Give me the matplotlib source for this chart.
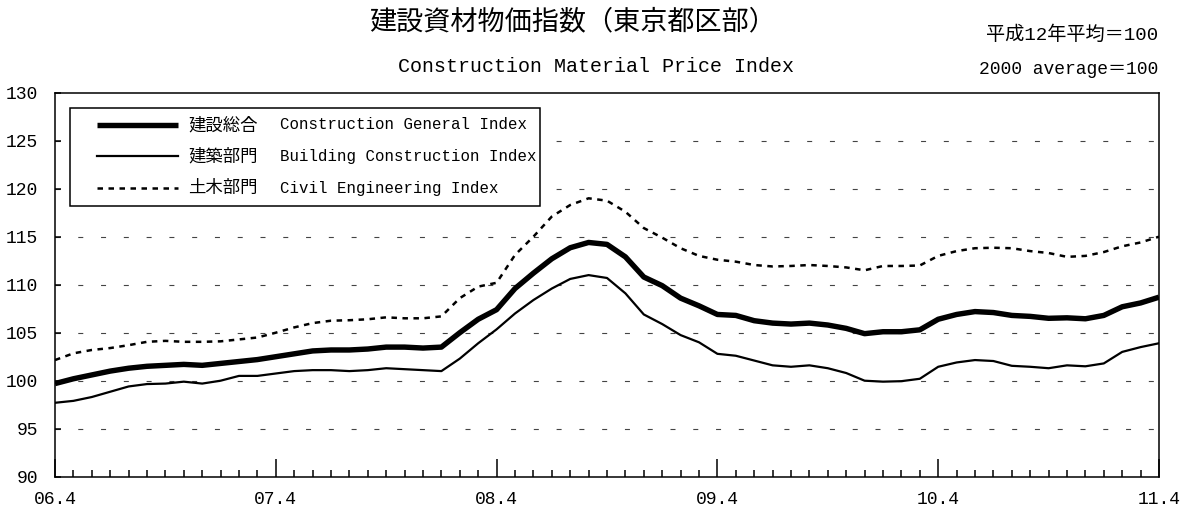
import matplotlib
matplotlib.use("Agg")
import matplotlib.pyplot as plt
from matplotlib.ticker import MultipleLocator
from matplotlib.patches import Rectangle

plt.rcParams['font.family'] = ['Liberation Mono', 'Noto Sans CJK JP']

# monthly index values, 2006.4 - 2011.4 (2000 average = 100)
general = [99.7, 100.2, 100.6, 101.0, 101.3, 101.5, 101.6, 101.7, 101.6, 101.8,
           102.0, 102.2, 102.5, 102.8, 103.1, 103.2, 103.2, 103.3, 103.5,
           103.5, 103.4, 103.5, 105.0, 106.4, 107.4, 109.6, 111.2, 112.7, 113.85,
           114.4, 114.2, 112.9, 110.8, 109.9, 108.6, 107.8, 106.9, 106.8, 106.25, 106.0,
           105.9, 106.0, 105.8, 105.45, 104.9, 105.1, 105.1, 105.3, 106.4, 106.9,
           107.2, 107.1, 106.8, 106.7, 106.5, 106.55, 106.45, 106.8, 107.7, 108.1, 108.7]
building = [97.7, 97.9, 98.3, 98.85, 99.4, 99.65, 99.7, 99.9, 99.7, 100.0,
            100.5, 100.5, 100.75, 101.0, 101.1, 101.1, 101.0, 101.1, 101.3,
            101.2, 101.1, 101.0, 102.3, 103.9, 105.35, 107.0, 108.4, 109.6, 110.6,
            111.0, 110.7, 109.1, 106.9, 105.9, 104.75, 104.0, 102.8, 102.6, 102.1, 101.6,
            101.45, 101.6, 101.3, 100.8, 100.0, 99.9, 99.95, 100.2, 101.45, 101.9,
            102.15, 102.05, 101.55, 101.45, 101.3, 101.6, 101.5, 101.8, 103.0, 103.5, 103.9]
civil = [102.15, 102.85, 103.2, 103.4, 103.7, 104.05, 104.15, 104.05, 104.05, 104.1,
         104.3, 104.5, 105.0, 105.55, 106.0, 106.25, 106.3, 106.4, 106.6,
         106.5, 106.5, 106.7, 108.6, 109.8, 110.2, 113.1, 115.0, 117.1, 118.3,
         119.0, 118.75, 117.6, 115.9, 114.9, 113.8, 113.0, 112.6, 112.4, 112.05, 111.9,
         111.95, 112.05, 111.95, 111.8, 111.5, 111.95, 111.95, 112.0, 113.0, 113.5,
         113.8, 113.85, 113.8, 113.5, 113.3, 112.9, 113.0, 113.4, 114.0, 114.4, 115.0]
months = list(range(len(general)))
year_labels = ['06.4', '07.4', '08.4', '09.4', '10.4', '11.4']
names_jp = ['建設総合', '建築部門', '土木部門']
names_en = ['Construction General Index', 'Building Construction Index', 'Civil Engineering Index']

styles = [dict(color='black', lw=3.9, solid_capstyle='butt'),
          dict(color='black', lw=1.6),
          dict(color='black', lw=1.8, linestyle=(0, (2.2, 2.2)))]

fig = plt.figure(figsize=(11.82, 5.09), dpi=100)
ax = fig.add_axes([55/1182, 1 - 476.7/509, 1104/1182, 384/509])

for series, st in zip([general, building, civil], styles):
    ax.plot(months, series, **st)

ax.set_xlim(0, 60)
ax.set_ylim(90, 130)
ax.set_xticks(range(0, 61, 12))
ax.set_xticklabels(year_labels)
ax.xaxis.set_minor_locator(MultipleLocator(1))
ax.set_yticks(range(90, 131, 5))
ax.tick_params(axis='x', which='major', direction='in', length=13, width=1.1, labelsize=13, pad=10)
ax.tick_params(axis='x', which='minor', direction='in', length=5, width=1.1)
ax.tick_params(axis='y', direction='in', length=4, width=1.1, labelsize=13, pad=12)
for s in ax.spines.values():
    s.set_linewidth(1.1)

for v in range(95, 130, 5):
    ax.axhline(v, color='#444444', lw=0.8, linestyle=(0, (4.5, 16)), zorder=0)

# legend box drawn by hand to match the original layout
ax.add_patch(Rectangle((0.0136, 0.705), 0.4257, 0.256, transform=ax.transAxes,
                       facecolor='white', edgecolor='black', lw=1.1, zorder=5))
for k, y in enumerate([0.9159, 0.8346, 0.7518]):
    ax.plot([0.038, 0.1114], [y, y], transform=ax.transAxes, zorder=6, **styles[k])
    ax.text(0.1205, y, names_jp[k], transform=ax.transAxes, va='center', fontsize=12.5, zorder=6)
    ax.text(0.2038, y, names_en[k], transform=ax.transAxes, va='center', fontsize=11.3, zorder=6)

fig.text(0.484, 1 - 22/509, '建設資材物価指数（東京都区部）', ha='center', va='center', fontsize=19.5)
fig.text(0.504, 1 - 67/509, 'Construction Material Price Index', ha='center', va='center', fontsize=14.4)
fig.text(0.98, 1 - 35/509, '平成12年平均＝100', ha='right', va='center', fontsize=13.8)
fig.text(0.98, 1 - 69/509, '2000 average＝100', ha='right', va='center', fontsize=13)

fig.savefig('out.png', dpi=100)
